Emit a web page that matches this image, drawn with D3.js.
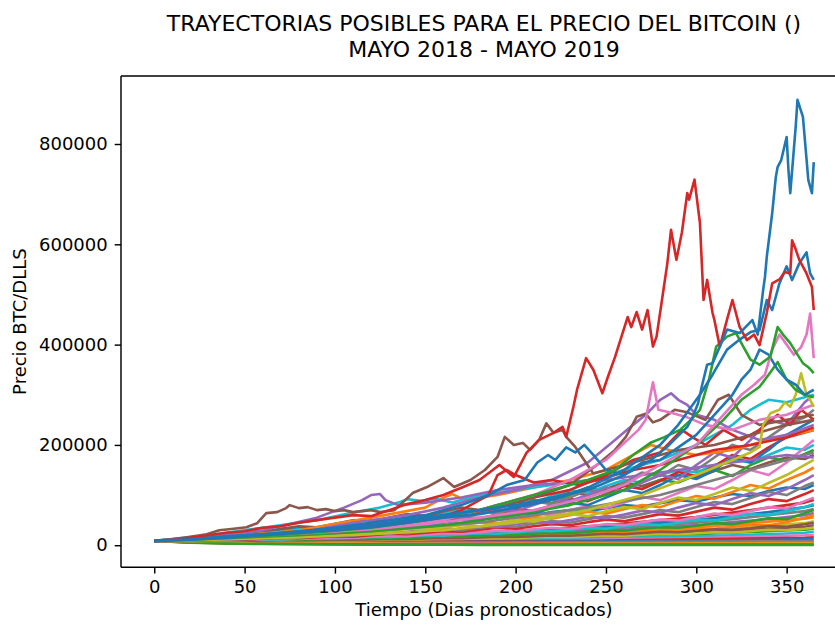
<!DOCTYPE html>
<html>
<head>
<meta charset="utf-8">
<script src="https://cdn.jsdelivr.net/npm/d3@7"></script>
<style>
  body { margin: 0; background: #fff; }
  svg { display: block; }
  text { font-family: "DejaVu Sans", sans-serif; fill: #000; }
</style>
</head>
<body>
<svg id="chart"></svg>
<script>
var width = 835, height = 625;

// all prices in thousands of USD

// days of the low paths (every 20 days) and of the middle paths (every 10 days)
var lowDays = [0,20,40,60,80,100,120,140,160,180,200,220,240,260,280,300,320,340,360,365];
var midDays = [0,10,20,30,40,50,60,70,80,90,100,110,120,130,140,150,160,170,180,190,200,210,220,230,240,250,260,270,280,290,300,310,320,330,340,350,360,365];

var lowPaths = [
  [8.7,9,10,12,13,15,18,20,23,26,29,33,38,43,50,56,65,75,85,90],
  [8.7,9,10,11,13,14,16,18,21,24,27,30,34,39,45,50,58,66,76,80],
  [8.7,8.5,9.5,11,12,13,15,17,19,21,24,27,31,35,40,45,52,60,68,72],
  [8.7,8.8,9,10,11,12,14,16,17,19,22,25,28,31,36,40,46,52,60,64],
  [8.7,8.5,9,9.5,10,11,13,14,16,18,20,22,25,28,32,36,41,47,53,56],
  [8.7,8.2,8.5,9,9.5,10,11,12,14,15,17,19,21,24,27,30,34,39,44,48],
  [8.7,8,8.2,8.5,9,9.5,10,11,12,13,15,16,18,20,23,26,29,33,37,40],
  [8.7,7.8,7.8,8,8.2,8.5,9,10,11,12,13,14,16,18,20,22,25,28,31,33],
  [8.7,7.5,7.5,7.6,7.8,8,8.3,9,9.6,10,11,12,13,15,16,18,20,22,25,27],
  [8.7,7.2,7,7,7.2,7.4,7.6,8,8.4,9,9.5,10,11,12,13,14,16,18,20,21],
  [8.7,7,6.5,6.5,6.6,6.8,7,7.2,7.5,7.8,8.2,8.6,9,10,11,12,13,14,15,16],
  [8.7,6.8,6,5.8,5.8,5.9,6,6.2,6.4,6.6,7,7.2,7.5,8,8.5,9,10,11,12,12],
  [8.7,6.5,5.5,5.2,5,5,5,5.1,5.2,5.4,5.6,5.8,6,6.3,6.7,7,7.5,8,8.5,9],
  [8.7,6.2,5,4.5,4.3,4.2,4.1,4.1,4.2,4.3,4.4,4.5,4.7,4.9,5.1,5.4,5.7,6,6.4,6.5],
  [8.7,6,4.6,4,3.6,3.4,3.2,3.1,3.1,3.1,3.2,3.3,3.4,3.5,3.6,3.8,4,4.2,4.4,4.5],
  [8.7,5.8,4.2,3.4,3,2.7,2.5,2.3,2.2,2.1,2.1,2.1,2.2,2.2,2.3,2.4,2.5,2.6,2.7,2.8],
  [8.7,5.5,3.8,2.9,2.4,2,1.8,1.6,1.5,1.4,1.3,1.3,1.3,1.3,1.3,1.3,1.4,1.4,1.5,1.5],
  [8.7,5.2,3.4,2.4,1.9,1.5,1.2,1,0.9,0.8,0.7,0.7,0.6,0.6,0.6,0.6,0.6,0.6,0.6,0.6]
];

var midPaths = [
  [8.7,8.5,8.5,9,8.8,9.5,10,9.8,10.5,11,11,12,13,12.5,14,15,14.5,16,17,17,19,20,20,22,24,23,26,28,28,31,34,33,37,41,40,46,55,60],
  [8.7,8.2,8,8.3,8.5,8.2,8.8,9.2,9,9.5,10,9.8,10.5,11.2,11,12,13,12.6,13.8,15,14.5,15.8,17,16.5,18,19.5,19,21,22.5,22,24,26,25.5,28,31,30,33,35],
  [8.7,8.3,8.5,8.8,9,8.8,9.4,9.8,9.6,10.2,11,10.8,11.6,12.5,12.2,13.4,14.5,14,15.5,17,16.5,18,19.5,19,21,23,22,24.5,27,26,29,32,31,34,38,37,42,45],
  [8.7,8.5,9,9,10,9.5,10.5,11,11,12,13,12.5,14,15,14.5,16,18,17,19,21,20,23,25,24,27,30,29,33,36,35,39,44,42,48,54,52,64,70],
  [8.7,9,9,10,9.5,11,12,11.5,13,14,13.5,15,17,16,18,20,19,22,24,23,26,29,28,31,35,33,38,42,40,45,51,49,56,62,60,68,76,82],
  [8.7,8.5,9.5,10,11,10.5,12,13,12.5,14,16,15,17,19,18,21,24,23,26,29,28,32,35,33,38,42,40,46,51,49,56,63,60,68,76,73,88,95],
  [8.7,9,10,10.5,12,11,13,15,14,16,18,17,20,23,22,25,28,27,31,35,33,38,42,40,46,51,48,55,62,59,67,75,71,82,92,88,102,110],
  [8.7,11,14,18,22,21,26,30,34,33,38,42,40,45,50,48,52,56,54,58,62,60,66,70,68,74,80,77,84,90,87,95,102,98,108,115,112,120],
  [8.7,9.5,10,11,13,12,14,16,15,18,20,19,23,26,24,28,32,30,35,39,37,43,48,45,52,58,55,62,70,66,76,86,82,94,106,100,118,125],
  [8.7,9,10,12,11,13,15,14,17,19,18,22,25,23,27,31,29,34,38,36,42,47,44,50,57,54,61,69,65,75,84,80,92,104,98,112,130,140],
  [8.7,10,12,11,13,15,18,17,20,23,22,26,30,28,33,37,35,41,46,43,50,56,53,60,67,63,72,80,76,88,98,93,106,120,113,130,145,155],
  [8.7,9.5,11,12,14,16,15,18,20,19,23,26,25,29,33,31,36,40,38,44,50,47,55,62,58,68,76,72,84,95,90,102,115,108,124,140,160,170],
  [8.7,12,15,19,23,28,27,33,38,36,43,50,47,55,62,58,66,75,70,80,88,84,95,105,100,112,125,118,130,140,134,148,160,152,165,175,172,180],
  [8.7,10,11,13,15,14,18,20,24,29,27,33,40,37,45,52,48,58,70,65,78,90,84,100,115,108,120,112,130,125,140,150,138,160,175,168,182,190],
  [8.7,10,13,16,19,18,23,27,32,30,36,42,40,47,55,52,62,70,66,78,90,85,98,110,104,118,130,125,140,150,145,160,170,165,180,195,190,200],
  [8.7,11,13,12,15,18,17,21,25,24,28,27,33,38,36,42,47,44,52,58,55,64,60,70,78,74,85,96,90,104,118,112,130,150,140,165,195,210],
  [8.7,10,11,13,16,15,19,22,26,25,29,34,32,38,44,42,48,56,53,62,72,68,80,92,88,102,118,112,128,146,138,158,180,172,195,215,225,230],
  [8.7,10,12,14,13,16,19,22,21,25,28,32,30,35,40,38,45,52,50,58,66,62,75,85,80,95,110,104,120,140,132,150,175,165,190,220,240,250],
  [8.7,11,14,13,17,20,24,23,28,33,31,37,43,40,48,55,52,60,68,64,75,88,82,95,110,105,125,145,138,160,150,175,200,190,215,240,255,270],
  [8.7,10,12,15,14,18,22,26,24,30,35,33,40,45,42,50,58,55,64,72,68,80,92,88,100,115,108,125,140,132,160,185,175,210,250,240,285,300]
];

// the paths that stand out, as [day, price] pairs
var greyA = [[0,8.7],[60,16],[120,28],[180,45],[240,75],[280,100],[320,140],[345,165],[365,185]];
var orangeA = [[0,8.7],[40,16],[80,30],[120,55],[150,75],[160,95],[165,102],[172,90],[190,100],[210,115],[230,130],[250,150],[265,180],[275,200],[285,190],[300,180],[320,190],[340,210],[365,230]];
var cyanA = [[0,8.7],[30,20],[60,35],[90,50],[110,65],[125,75],[135,85],[140,92],[148,88],[155,93],[165,85],[180,100],[200,110],[220,120],[240,130],[260,150],[280,170],[300,200],[320,240],[330,270],[340,290],[350,285],[365,300]];
var purpleA = [[0,8.7],[30,16],[60,30],[90,55],[105,75],[115,90],[120,100],[125,102],[128,90],[135,80],[150,85],[170,95],[190,110],[210,120],[230,125],[250,130],[270,140],[290,150],[310,160],[330,170],[350,180],[365,175]];
var purpleB = [[0,8.7],[40,15],[80,25],[110,45],[140,60],[160,75],[180,95],[200,110],[220,130],[240,165],[255,210],[265,240],[272,260],[280,290],[286,303],[290,290],[295,280],[300,260],[310,250],[320,230],[335,210],[350,220],[365,240]];
var redC = [[0,8.7],[40,13],[80,20],[120,30],[150,45],[170,70],[185,100],[190,140],[195,150],[200,140],[210,125],[220,130],[235,120],[250,135],[265,150],[280,160],[295,175],[310,190],[330,200],[350,215],[365,235]];
var redB = [[0,8.7],[40,14],[80,22],[120,35],[160,55],[190,75],[210,95],[230,110],[250,140],[265,170],[280,185],[292,230],[298,215],[305,200],[315,230],[325,210],[335,230],[345,260],[352,240],[358,270],[365,250]];
var brownA = [[0,8.7],[10,12],[20,17],[29,22],[36,30],[44,33],[51,36],[57,44],[62,64],[68,66],[73,74],[75,80],[80,74],[85,76],[90,70],[95,72],[100,68],[105,70],[110,66],[115,68],[120,70],[125,66],[133,70],[143,104],[151,116],[160,134],[166,116],[175,130],[183,150],[190,176],[194,216],[199,200],[204,204],[208,190],[213,210],[217,243],[221,224],[226,230],[228,216],[233,196],[243,143],[250,150],[270,170],[290,190],[310,200],[330,220],[350,240],[365,250]];
var brownB = [[0,8.7],[40,14],[80,22],[120,35],[160,55],[190,75],[210,95],[230,120],[245,160],[255,190],[261,216],[267,256],[272,262],[276,245],[280,250],[288,270],[295,265],[305,250],[312,290],[318,300],[325,260],[335,240],[350,250],[365,260]];
var pinkB = [[0,8.7],[40,13],[80,20],[120,30],[160,50],[190,80],[210,100],[230,130],[250,170],[262,210],[268,230],[272,250],[276,325],[279,270],[285,265],[295,255],[305,240],[320,230],[335,250],[350,260],[365,280]];
var oliveA = [[0,8.7],[40,12],[80,16],[120,22],[160,30],[200,45],[240,70],[270,100],[300,140],[320,170],[330,185],[335,196],[337,240],[341,263],[346,270],[349,285],[352,276],[355,300],[358,343],[361,300],[363,290],[365,276]];
var greenB = [[0,8.7],[40,14],[80,20],[120,28],[160,40],[200,60],[230,80],[260,110],[280,150],[300,200],[315,250],[325,290],[335,316],[340,340],[345,365],[350,330],[355,310],[360,300],[365,295]];
var blueC = [[0,8.7],[30,14],[60,22],[90,30],[120,45],[150,60],[170,80],[185,100],[195,120],[205,130],[212,165],[218,180],[222,170],[228,195],[233,185],[238,200],[243,180],[250,150],[260,140],[270,165],[280,170],[290,195],[300,220],[310,260],[320,300],[325,330],[330,350],[335,390],[340,380],[345,350],[350,330],[355,320],[360,300],[365,310]];
var pinkA = [[0,8.7],[30,13],[60,19],[90,25],[120,32],[150,42],[180,55],[210,70],[240,95],[260,120],[280,160],[300,200],[315,260],[325,300],[332,320],[338,340],[342,390],[346,420],[350,400],[354,380],[358,395],[361,420],[363,462],[365,373]];
var greenA = [[0,8.7],[30,13],[60,18],[90,26],[120,35],[150,50],[180,70],[200,90],[220,110],[240,130],[255,150],[265,180],[275,205],[282,215],[291,230],[297,250],[302,270],[307,330],[311,396],[317,416],[322,423],[326,396],[330,370],[335,360],[341,376],[345,435],[348,420],[352,403],[356,380],[359,363],[362,355],[365,343]];
var blueB = [[0,8.7],[20,11],[40,15],[60,20],[80,25],[100,30],[120,36],[140,45],[160,55],[180,62],[200,75],[220,90],[240,115],[260,150],[280,200],[290,240],[302,300],[309,340],[317,390],[324,410],[330,425],[335,429],[339,489],[342,469],[346,522],[350,556],[353,529],[357,562],[361,584],[363,542],[365,529]];
var redA = [[0,8.7],[10,11],[20,15],[30,20],[40,25],[50,28],[60,35],[70,38],[80,45],[90,50],[100,55],[110,60],[120,58],[130,70],[140,82],[150,90],[160,100],[171,116],[180,130],[191,160],[199,136],[206,184],[213,210],[221,224],[226,236],[228,216],[232,276],[234,310],[239,373],[243,350],[248,303],[251,335],[255,375],[262,455],[264,435],[267,465],[270,430],[273,469],[276,396],[278,416],[281,489],[284,563],[286,629],[289,569],[292,623],[295,702],[296,689],[299,729],[302,643],[304,489],[306,529],[309,463],[310,449],[313,396],[317,450],[320,489],[324,435],[328,409],[332,420],[335,399],[339,463],[342,522],[346,530],[349,545],[352,542],[353,608],[355,590],[357,569],[361,542],[364,515],[365,469]];
var blueA = [[0,8.7],[20,12],[40,18],[60,22],[80,28],[100,35],[120,40],[140,50],[160,60],[180,70],[200,80],[220,95],[240,110],[260,140],[275,170],[285,200],[295,236],[298,256],[301,283],[303,316],[306,360],[309,363],[313,396],[317,430],[324,423],[331,449],[334,420],[337,509],[338,535],[339,575],[342,662],[344,734],[345,754],[347,768],[350,814],[351,748],[352,702],[355,834],[356,888],[359,854],[362,728],[364,702],[365,764]];

var xTicks = [0,50,100,150,200,250,300,350];
var yTicks = [0,200000,400000,600000,800000];

var tab10 = d3.schemeCategory10;

var svg = d3.select("#chart").attr("width", width).attr("height", height);

// plot box (right edge falls just outside the picture)
var plotLeft = 121, plotRight = 847, plotTop = 76, plotBottom = 567.3;

var x = d3.scaleLinear().domain([-18.4, 383.4]).range([plotLeft, plotRight]);
var y = d3.scaleLinear().domain([-44000, 935600]).range([plotBottom, plotTop]);

var line = d3.line()
    .x(function(d) { return x(d[0]); })
    .y(function(d) { return y(d[1] * 1000); });

var lines = svg.append("g")
    .attr("fill", "none")
    .attr("stroke-width", 2.6)
    .attr("stroke-linejoin", "round");

function drawGrid(paths, days, offset) {
  paths.forEach(function(vals, i) {
    var pts = vals.map(function(v, j) { return [days[j], v]; });
    lines.append("path")
        .attr("d", line(pts))
        .attr("stroke", tab10[(i * 7 + offset) % 10]);
  });
}

drawGrid(lowPaths, lowDays, 3);
drawGrid(midPaths, midDays, 1);

var highlighted = [
  [greyA, 7], [orangeA, 1], [cyanA, 9], [purpleA, 4], [purpleB, 4],
  [redC, 3], [redB, 3], [brownA, 5], [brownB, 5], [pinkB, 6],
  [oliveA, 8], [greenB, 2], [blueC, 0], [pinkA, 6], [greenA, 2],
  [blueB, 0], [redA, 3], [blueA, 0]
];

highlighted.forEach(function(h) {
  lines.append("path")
      .attr("d", line(h[0]))
      .attr("stroke", tab10[h[1]]);
});

// spines
var frame = svg.append("g").attr("stroke", "#000").attr("stroke-width", 1.44).attr("fill", "none");
frame.append("line").attr("x1", plotLeft).attr("x2", plotLeft).attr("y1", plotTop).attr("y2", plotBottom);
frame.append("line").attr("x1", plotLeft).attr("x2", plotRight).attr("y1", plotTop).attr("y2", plotTop);
frame.append("line").attr("x1", plotLeft).attr("x2", plotRight).attr("y1", plotBottom).attr("y2", plotBottom);
frame.append("line").attr("x1", plotRight).attr("x2", plotRight).attr("y1", plotTop).attr("y2", plotBottom);

var xAxis = svg.append("g")
    .attr("transform", "translate(0," + plotBottom + ")")
    .call(d3.axisBottom(x).tickValues(xTicks).tickSize(6.3).tickPadding(6.4).tickFormat(d3.format("d")));
var yAxis = svg.append("g")
    .attr("transform", "translate(" + plotLeft + ",0)")
    .call(d3.axisLeft(y).tickValues(yTicks).tickSize(6.3).tickPadding(7).tickFormat(d3.format("d")));

[xAxis, yAxis].forEach(function(a) {
  a.select(".domain").remove();
  a.selectAll(".tick line").attr("stroke", "#000").attr("stroke-width", 1.44);
  a.selectAll(".tick text").attr("font-size", 18).attr("font-family", "DejaVu Sans").attr("fill", "#000");
});

svg.append("text")
    .attr("x", (plotLeft + plotRight) / 2).attr("y", 616)
    .attr("text-anchor", "middle").attr("font-size", 18)
    .text("Tiempo (Dias pronosticados)");

svg.append("text")
    .attr("transform", "translate(26," + ((plotTop + plotBottom) / 2) + ") rotate(-90)")
    .attr("text-anchor", "middle").attr("font-size", 18)
    .text("Precio BTC/DLLS");

var title = svg.append("text").attr("text-anchor", "middle").attr("font-size", 22);
title.append("tspan").attr("x", (plotLeft + plotRight) / 2).attr("y", 31)
    .text("TRAYECTORIAS POSIBLES PARA EL PRECIO DEL BITCOIN ()");
title.append("tspan").attr("x", (plotLeft + plotRight) / 2).attr("y", 57)
    .text("MAYO 2018 - MAYO 2019");
</script>
</body>
</html>
